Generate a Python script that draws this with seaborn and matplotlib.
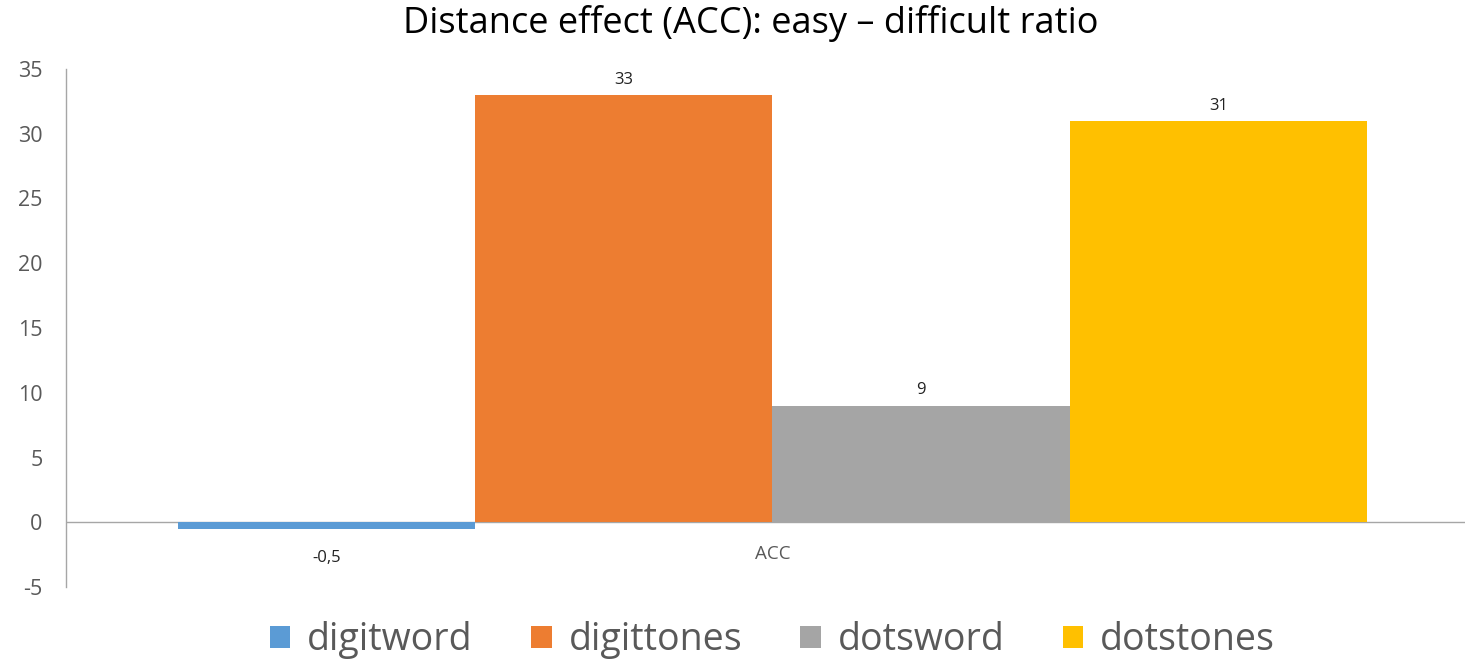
import matplotlib
matplotlib.use("Agg")
import matplotlib.pyplot as plt
import seaborn as sns
import pandas as pd

series = ["digitword", "digittones", "dotsword", "dotstones"]
values = [-0.5, 33, 9, 31]
category = "ACC"
colors = ["#5B9BD5", "#ED7D31", "#A5A5A5", "#FFC000"]
yticks = [-5, 0, 5, 10, 15, 20, 25, 30, 35]
title = "Distance effect (ACC): easy \u2013 difficult ratio"

sns.set_theme(style="white")
plt.rcParams['font.family'] = ['Open Sans', 'DejaVu Sans']

df = pd.DataFrame({"cat": [category] * len(series), "series": series, "value": values})

fig = plt.figure(figsize=(14.67, 6.59), dpi=100)
ax = fig.add_axes([66 / 1467, 1 - 587 / 659, (1465 - 66) / 1467, (587 - 69) / 659])

sns.barplot(data=df, x="cat", y="value", hue="series", hue_order=series,
            palette=colors, width=0.85, gap=0, saturation=1, ax=ax, legend=True,
            errorbar=None, linewidth=0)

ax.set_ylim(-5, 35)
ax.set_xlim(-0.505, 0.495)
ax.set_yticks(yticks)
ax.set_yticklabels([str(t) for t in yticks], fontsize=15.5, color="#595959")
ax.tick_params(axis="y", length=0, pad=17)
ax.set_xticks([])
ax.set_xlabel("")
ax.set_ylabel("")

for s in ["top", "right", "bottom"]:
    ax.spines[s].set_visible(False)
ax.spines["left"].set_color("#A6A6A6")
ax.spines["left"].set_linewidth(1.0)
ax.axhline(0, color="#A6A6A6", lw=1.0, zorder=0.5)

ax.text(0, -1.75, category, ha="center", va="top", fontsize=13.5, color="#595959")

for container in ax.containers:
    for bar in container:
        v = bar.get_height()
        lab = ("%g" % v).replace(".", ",")
        ax.annotate(lab, (bar.get_x() + bar.get_width() / 2, v),
                    xytext=(0, 11 if v >= 0 else -21), textcoords="offset points",
                    ha="center", va="center", fontsize=12, color="#222222")

leg = ax.legend(loc="lower center", bbox_to_anchor=(0.505, -0.205), ncol=4, frameon=False,
                fontsize=27, handlelength=0.55, handleheight=0.55, handletextpad=0.45,
                columnspacing=1.55, labelcolor="#595959")

fig.suptitle(title, fontsize=26, x=(397 + 1105) / 2 / 1467, y=1 - 5 / 659, va="top",
             color="#000000")

fig.savefig("out.png", dpi=100)
